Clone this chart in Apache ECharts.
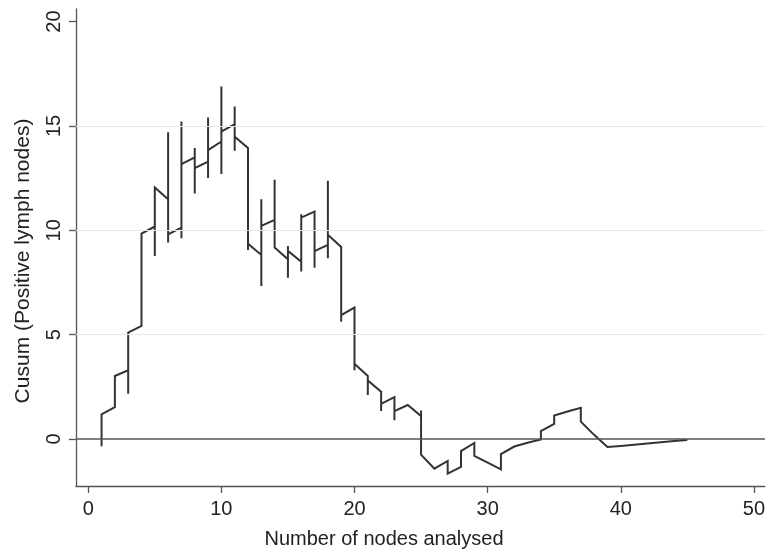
<!DOCTYPE html>
<html>
<head>
<meta charset="utf-8">
<script src="https://cdn.jsdelivr.net/npm/echarts@6/dist/echarts.min.js"></script>
<style>
html,body{margin:0;padding:0;background:#fff;}
#chart{width:768px;height:551px;}
</style>
</head>
<body>
<div id="chart"></div>
<script>
// Path of the cusum curve (several observations can share the same number of nodes)
var nodes = [1,1, 2,2, 3,3,3, 4,4, 5,5,5, 6,6,6,6, 7,7,7,7, 8,8,8,8, 9,9,9,9, 10,10,10,10,
             11,11,11,11, 12,12,12, 13,13,13,13, 14,14,14, 15,15,15,15, 16,16,16,16, 17,17,17,
             18,18,18,18, 19,19,19, 20,20,20, 21,21,21, 22,22,22, 23,23,23, 24, 25,25,25, 26,
             27,27, 28,28, 29,29, 30, 31,31, 32, 33, 34,34, 35,35, 36, 37,37, 38, 39, 40, 41, 42, 43, 44, 45];
var cusum = [-0.34,1.18, 1.53,3.02, 3.29,2.17,5.10, 5.42,9.84, 10.18,8.77,12.05, 11.49,14.69,9.41,9.81,
             10.13,9.62,15.21,13.17, 13.49,13.94,11.76,12.98, 13.29,15.40,12.50,13.84, 14.25,16.89,12.69,14.73,
             15.08,15.93,13.81,14.48, 13.94,9.05,9.36, 8.82,11.49,7.33,10.21, 10.50,12.42,9.17,
             8.61,9.25,7.73,9.01, 8.49,8.02,10.77,10.61, 10.90,8.21,9.00,
             9.30,12.37,8.66,9.78, 9.20,5.62,5.94, 6.30,3.29,3.61, 3.02,2.11,2.81, 2.27,1.34,1.69,
             2.01,0.90,1.34, 1.63, 1.10,1.37,-0.75, -1.42, -1.05,-1.66, -1.34,-0.58, -0.19,-0.81, -1.13,
             -1.45,-0.72, -0.36, -0.18, -0.02,0.38, 0.73,1.13, 1.32, 1.50,0.83, 0.20, -0.38,
             -0.33, -0.27, -0.21, -0.15, -0.10, -0.05];
var xTicks = [0, 10, 20, 30, 40, 50];
var yTicks = [0, 5, 10, 15, 20];
var gridValues = [5, 10, 15];
var refValue = 0;
var xTitle = 'Number of nodes analysed';
var yTitle = 'Cusum (Positive lymph nodes)';

var pathData = nodes.map(function (n, i) { return [n, cusum[i]]; });
var FONT = '"Liberation Sans", Arial, sans-serif';

var chart = echarts.init(document.getElementById('chart'), null, {renderer: 'canvas'});
chart.setOption({
  animation: false,
  backgroundColor: '#ffffff',
  grid: {left: 76, right: 2, top: 9, bottom: 65, containLabel: false},
  xAxis: {
    type: 'value', min: -0.92, max: 50.83,
    axisLine: {show: true, onZero: false, lineStyle: {color: '#555', width: 1.3}},
    axisTick: {show: true, length: 7, customValues: xTicks, lineStyle: {color: '#555', width: 1.3}},
    axisLabel: {customValues: xTicks, fontSize: 20, color: '#222', margin: 13, fontFamily: FONT},
    splitLine: {show: false}
  },
  yAxis: {
    type: 'value', min: -2.25, max: 20.6,
    axisLine: {show: true, onZero: false, lineStyle: {color: '#555', width: 1.3}},
    axisTick: {show: true, length: 7, customValues: yTicks, lineStyle: {color: '#555', width: 1.3}},
    axisLabel: {customValues: yTicks, rotate: 90, fontSize: 20, color: '#222', margin: 12, fontFamily: FONT},
    splitLine: {show: false}
  },
  series: [
    {
      type: 'line', data: [], z: 1, silent: true,
      markLine: {
        silent: true, symbol: 'none', animation: false,
        label: {show: false},
        lineStyle: {color: '#e6e6e6', width: 1.2, type: 'solid'},
        data: gridValues.map(function (v) { return {yAxis: v}; })
      }
    },
    {
      type: 'line', data: [], z: 2, silent: true,
      markLine: {
        silent: true, symbol: 'none', animation: false,
        label: {show: false},
        lineStyle: {color: '#555', width: 1.6, type: 'solid'},
        data: [{yAxis: refValue}]
      }
    },
    {
      type: 'line', data: pathData, z: 3,
      showSymbol: false, symbol: 'none',
      lineStyle: {color: '#333', width: 2, join: 'miter'}
    }
  ],
  graphic: [
    {type: 'text', left: 'center', x: 0, top: 529,
     style: {text: xTitle, font: '20px ' + FONT, fill: '#222'}},
    {type: 'text', x: 23, y: 261, rotation: Math.PI / 2,
     style: {text: yTitle, font: '21px ' + FONT, fill: '#222', align: 'center', verticalAlign: 'middle'}}
  ]
});
</script>
</body>
</html>
